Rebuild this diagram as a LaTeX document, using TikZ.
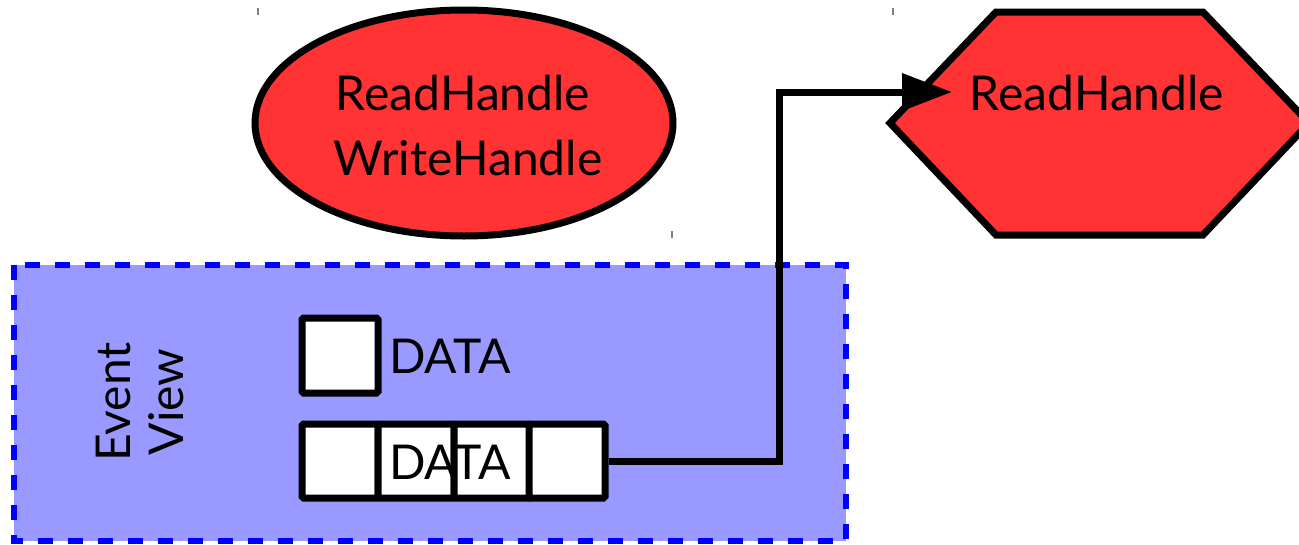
\documentclass[tikz,border=0pt]{standalone}
\usepackage{fontspec}
\setmainfont{Lato}
\usetikzlibrary{arrows.meta,shapes.geometric}
\definecolor{handlered}{HTML}{FF3333}
\definecolor{viewfill}{HTML}{9999FF}
\definecolor{viewline}{HTML}{0000FF}
\tikzset{
  lbl/.style={font=\fontsize{48}{65}\selectfont, inner sep=0pt},
  cell/.style={draw=black, line width=7pt, fill=white, rounded corners=1.5pt},
  conn/.style={line width=7pt, -{Triangle[length=50pt,width=36pt]}},
  tick/.style={draw=gray, line width=1.2pt},
}
\begin{document}
\begin{tikzpicture}[x=1pt,y=-1pt]
\useasboundingbox (0,0) rectangle (1299,544);
\clip (0,0) rectangle (1299,544);

% stray tick marks
\draw[tick] (258,8) -- (258,15);
\draw[tick] (893,8) -- (893,15);
\draw[tick] (672,231) -- (672,238);

% event view region
\draw[viewline, fill=viewfill, line width=6pt, dash pattern=on 15pt off 15pt]
  (14,265) rectangle (846,541);
\node[lbl, font=\fontsize{48}{53}\selectfont, rotate=90, align=center] (ev) at (140,402) {Event\\View};

% handles ellipse
\node[ellipse, draw=black, fill=handlered, line width=7pt,
      minimum width=418pt, minimum height=226pt, inner sep=0pt] (handles) at (464,123) {};
\node[lbl] (hr) at (463,93) {ReadHandle};
\node[lbl] (hw) at (468,158) {WriteHandle};

% read handle hexagon
\coordinate (hx1) at (996,12);
\coordinate (hx2) at (1203,12);
\coordinate (hx3) at (1309,123);
\coordinate (hx4) at (1203,235);
\coordinate (hx5) at (996,235);
\coordinate (hx6) at (890,123);
\draw[black, fill=handlered, line width=7pt, line join=miter]
  (hx1) -- (hx2) -- (hx3) -- (hx4) -- (hx5) -- (hx6) -- cycle;
\node[lbl] (rh) at (1097,93) {ReadHandle};

% data cells
\node[cell, minimum width=76pt, minimum height=75pt, inner sep=0pt] (d0) at (340,355.5) {};
\node[lbl, anchor=west] (t0) at (389,356) {DATA};
\node[cell, minimum width=76pt, minimum height=74pt, inner sep=0pt] (c1) at (340,461) {};
\node[cell, minimum width=76pt, minimum height=74pt, inner sep=0pt] (c2) at (416,461) {};
\node[cell, minimum width=76pt, minimum height=74pt, inner sep=0pt] (c3) at (492,461) {};
\node[cell, minimum width=76pt, minimum height=74pt, inner sep=0pt] (c4) at (567,461) {};
\node[lbl, anchor=west] (t1) at (389,462) {DATA};

% link to the read handle
\coordinate (bend1) at (779,461);
\coordinate (bend2) at (779,92);
\coordinate (tip) at (952,92);
\draw[conn, line join=miter] (c4.east) -- (bend1) -- (bend2) -- (tip);
\end{tikzpicture}
\end{document}
